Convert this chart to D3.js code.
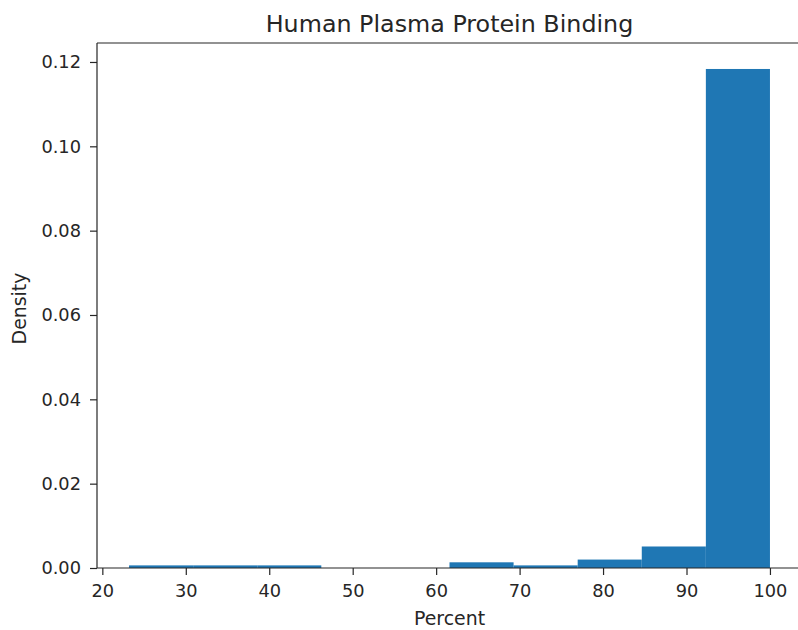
<!DOCTYPE html>
<html>
<head>
<meta charset="utf-8">
<script src="https://cdn.jsdelivr.net/npm/d3@7"></script>
<style>
  html, body { margin: 0; padding: 0; background: #fff; }
  svg { display: block; }
  text { font-family: "DejaVu Sans", sans-serif; fill: #262626; }
</style>
</head>
<body>
<svg id="chart" width="798" height="630"></svg>
<script>
// Histogram data (density)
const binEdges = [23.2, 30.88, 38.56, 46.24, 53.92, 61.6, 69.28, 76.96, 84.64, 92.32, 100];
const densities = [0.00062, 0.00062, 0.00062, 0, 0, 0.00135, 0.00062, 0.002, 0.0051, 0.11834];
const xTicks = [20, 30, 40, 50, 60, 70, 80, 90, 100];
const yTicks = [0, 0.02, 0.04, 0.06, 0.08, 0.10, 0.12];
const titleText = "Human Plasma Protein Binding";
const xLabel = "Percent";
const yLabel = "Density";

const svg = d3.select("#chart");
const L = 97, R = 802, T = 43, B = 568;

const x = d3.scaleLinear().domain([19.36, 103.84]).range([L, R]);
const y = d3.scaleLinear().domain([0, 0.1245]).range([B, T]);

const bins = densities.map((d, i) => ({ x0: binEdges[i], x1: binEdges[i + 1], d }));

svg.append("g").selectAll("rect").data(bins).join("rect")
  .attr("x", b => x(b.x0))
  .attr("width", b => x(b.x1) - x(b.x0))
  .attr("y", b => y(b.d))
  .attr("height", b => y(0) - y(b.d))
  .attr("fill", "#1f77b4");

const fs = 17.8, lfs = 18.9;

const xAxis = svg.append("g").attr("transform", `translate(0,${B})`)
  .call(d3.axisBottom(x).tickValues(xTicks).tickFormat(d3.format("d")).tickSize(7).tickPadding(9));
const yAxis = svg.append("g").attr("transform", `translate(${L},0)`)
  .call(d3.axisLeft(y).tickValues(yTicks).tickFormat(d3.format(".2f")).tickSize(7).tickPadding(9));

[xAxis, yAxis].forEach(a => {
  a.select(".domain").remove();
  a.selectAll(".tick line").attr("stroke", "#262626").attr("stroke-width", 1.2);
  a.selectAll(".tick text").attr("font-size", fs).attr("font-family", "DejaVu Sans").attr("fill", "#262626");
});

// spines
const sp = svg.append("g").attr("stroke", "#262626").attr("stroke-width", 1.2).attr("fill", "none");
sp.append("line").attr("x1", L).attr("x2", L).attr("y1", T).attr("y2", B);
sp.append("line").attr("x1", L).attr("x2", R).attr("y1", B).attr("y2", B);
sp.append("line").attr("x1", L).attr("x2", R).attr("y1", T).attr("y2", T);
sp.append("line").attr("x1", R).attr("x2", R).attr("y1", T).attr("y2", B);

svg.append("text").attr("x", (L + R) / 2).attr("y", 32).attr("text-anchor", "middle")
  .attr("font-size", 23.8).text(titleText);
svg.append("text").attr("x", (L + R) / 2).attr("y", 625).attr("text-anchor", "middle")
  .attr("font-size", lfs).text(xLabel);
svg.append("text").attr("transform", `translate(25.5,${(T + B) / 2 + 3}) rotate(-90)`).attr("text-anchor", "middle")
  .attr("font-size", lfs).text(yLabel);
</script>
</body>
</html>
